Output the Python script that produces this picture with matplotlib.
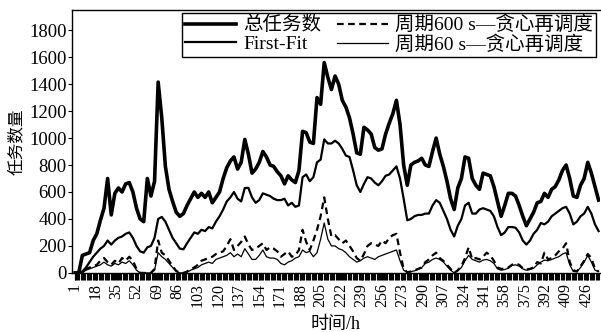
import numpy as np
import matplotlib
matplotlib.use("Agg")
import matplotlib.pyplot as plt
from matplotlib.ticker import FixedLocator, NullFormatter

plt.rcParams["font.family"] = ["Liberation Serif", "Noto Sans CJK SC"]
plt.rcParams["axes.unicode_minus"] = False

# sampling hours (every 3 h)
hours = np.arange(1, 437, 3)

total = [
    0, 0, 130, 140, 150, 240, 290, 390, 480, 700,
    430, 590, 630, 600, 660, 670, 600, 480, 400, 380,
    700, 570, 680, 1415, 1150, 790, 620, 530, 450, 420,
    440, 500, 550, 600, 560, 590, 560, 600, 520, 560,
    600, 700, 780, 830, 860, 770, 820, 990, 880, 740,
    770, 820, 900, 860, 800, 790, 750, 720, 660, 720,
    690, 670, 760, 1050, 1040, 970, 960, 1300, 1250, 1560,
    1450, 1360, 1460, 1400, 1280, 1230, 1150, 1030, 890, 880,
    1080, 1060, 1030, 930, 910, 920, 1030, 1110, 1180, 1280,
    1100, 800, 650, 800, 820, 830, 850, 800, 790, 900,
    1000, 880, 790, 680, 550, 470, 630, 700, 860, 850,
    700, 650, 620, 740, 730, 720, 640, 530, 420, 500,
    590, 590, 570, 500, 420, 350, 400, 450, 520, 530,
    590, 560, 620, 640, 690, 760, 800, 700, 570, 560,
    650, 700, 820, 740, 640, 540,
]

first_fit = [
    0, 0, 10, 40, 80, 120, 150, 180, 200, 240,
    210, 240, 260, 270, 290, 300, 260, 200, 160, 150,
    190, 200, 260, 400, 415, 380, 320, 260, 220, 180,
    175, 220, 260, 300, 290, 320, 310, 340, 330, 380,
    420, 470, 530, 560, 600, 550, 530, 630, 630, 560,
    520, 540, 590, 580, 570, 550, 540, 540, 550, 500,
    520, 490, 500, 710, 730, 680, 710, 820, 840, 990,
    960, 960, 980, 960, 920, 870, 860, 760, 650, 600,
    660, 710, 700, 670, 650, 680, 720, 730, 760, 790,
    700, 550, 390, 400, 420, 430, 430, 440, 440, 500,
    540, 520, 460, 400, 320, 270, 350, 400, 500, 520,
    440, 440, 470, 480, 470, 460, 420, 340, 280, 300,
    340, 340, 335, 300, 240, 210, 240, 290, 320, 370,
    360, 380, 420, 440, 460, 480, 490, 440, 360, 380,
    420, 440, 490, 440, 360, 310,
]

greedy_600 = [
    0, 0, 0, 30, 40, 50, 60, 90, 110, 80,
    60, 90, 70, 110, 90, 120, 90, 30, 0, 0,
    0, 0, 30, 240, 150, 130, 90, 50, 15, 0,
    0, 10, 30, 40, 60, 90, 100, 110, 120, 140,
    150, 160, 200, 250, 170, 200, 230, 270, 210, 170,
    180, 200, 220, 170, 190, 180, 160, 120, 140, 160,
    120, 130, 170, 320, 230, 170, 240, 320, 420, 560,
    400, 270, 280, 250, 220, 240, 200, 160, 110, 90,
    140, 200, 220, 210, 200, 240, 220, 260, 280, 290,
    150, 30, 5, 10, 20, 30, 40, 80, 100, 130,
    150, 110, 90, 60, 30, 0, 20, 50, 110, 190,
    100, 110, 100, 120, 150, 130, 90, 40, 30, 30,
    40, 60, 70, 60, 35, 25, 30, 40, 80, 70,
    150, 100, 110, 130, 160, 180, 220, 80, 20, 10,
    50, 90, 140, 110, 30, 10,
]

greedy_60 = [
    0, 0, 0, 20, 30, 40, 50, 60, 80, 60,
    50, 70, 60, 80, 70, 90, 60, 20, 0, 0,
    0, 0, 20, 150, 120, 100, 70, 40, 10, 0,
    0, 5, 20, 30, 40, 60, 70, 80, 70, 100,
    110, 120, 130, 150, 120, 140, 120, 180, 140, 100,
    100, 130, 170, 120, 110, 110, 100, 70, 60, 80,
    90, 110, 120, 170, 150, 160, 120, 150, 250, 370,
    250, 200, 200, 180, 170, 150, 120, 100, 80, 90,
    110, 120, 110, 100, 120, 130, 140, 150, 160, 170,
    90, 20, 5, 10, 15, 25, 40, 70, 80, 100,
    110, 100, 80, 50, 20, 0, 15, 40, 90, 130,
    100, 90, 80, 95, 100, 90, 70, 30, 20, 25,
    35, 55, 60, 50, 30, 20, 25, 35, 60, 80,
    95, 90, 100, 110, 120, 140, 150, 60, 10, 10,
    40, 80, 130, 80, 20, 10,
]

series_labels = ["总任务数", "First-Fit", "周期600 s—贪心再调度", "周期60 s—贪心再调度"]
tick_hours = list(range(1, 437, 17))
y_ticks = [0, 200, 400, 600, 800, 1000, 1200, 1400, 1600, 1800]

fig = plt.figure(figsize=(6.01, 3.32), dpi=100)
ax = fig.add_axes([0.12, 0.178, 0.878, 0.792])

ax.plot(hours, total, color="black", lw=2.6, label=series_labels[0])
ax.plot(hours, first_fit, color="black", lw=1.6, label=series_labels[1])
ax.plot(hours, greedy_600, color="black", lw=1.6, ls=(0, (3, 2)), label=series_labels[2])
ax.plot(hours, greedy_60, color="black", lw=0.9, label=series_labels[3])

ax.set_xlim(-1.5, 437)
ax.set_ylim(0, 1950)

ax.set_yticks(y_ticks)
ax.tick_params(axis="y", direction="out", length=3, width=0.8, labelsize=13.5, pad=1)

ax.xaxis.set_major_locator(FixedLocator(tick_hours))
ax.set_xticklabels([str(h) for h in tick_hours], rotation=90)
ax.xaxis.set_minor_locator(FixedLocator(np.arange(0.5, 437, 1)))
ax.xaxis.set_minor_formatter(NullFormatter())
ax.tick_params(axis="x", which="both", direction="out", length=5, width=0.8)
ax.tick_params(axis="x", which="major", labelsize=11.5, pad=2)

for side in ("left", "bottom", "top"):
    ax.spines[side].set_linewidth(1.0)
ax.spines["right"].set_visible(False)

ax.set_xlabel("时间/h", fontsize=13, labelpad=7)
ax.set_ylabel("任务数量", fontsize=12, labelpad=3)

leg = ax.legend(
    loc="upper right", bbox_to_anchor=(0.993, 0.989), ncol=2,
    fontsize=14, frameon=True, fancybox=False, framealpha=1,
    edgecolor="black", borderpad=0.15, labelspacing=0.05,
    handlelength=2.6, handletextpad=0.4, columnspacing=0.8,
    borderaxespad=0.0,
)
leg.get_frame().set_linewidth(1.0)

fig.savefig("out.png", dpi=100)
